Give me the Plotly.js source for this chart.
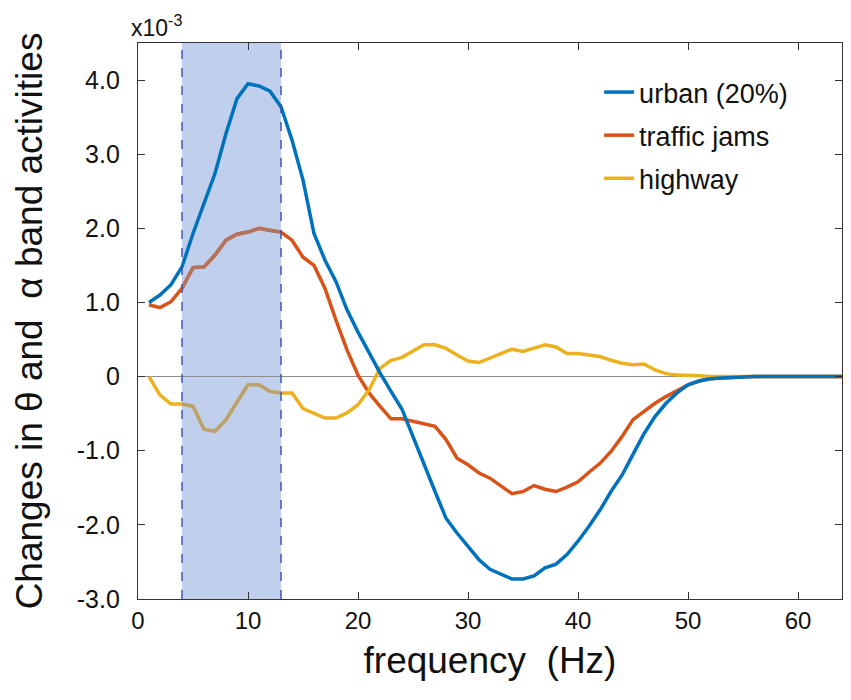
<!DOCTYPE html>
<html>
<head>
<meta charset="utf-8">
<script src="https://cdn.plot.ly/plotly-3.0.1.min.js"></script>
<style>
  html, body { margin: 0; padding: 0; background: #fff; }
  #chart { width: 851px; height: 700px; }
</style>
</head>
<body>
<div id="chart"></div>
<script>
// frequency bins (Hz)
const freq = [];
for (let f = 1; f <= 64; f++) freq.push(f);

// changes in band activity, units of 1e-3
const urban = [
  1.00, 1.10, 1.24, 1.48, 1.93, 2.34, 2.74, 3.28, 3.75, 3.95,
  3.92, 3.85, 3.64, 3.19, 2.65, 1.93, 1.57, 1.28, 0.90, 0.60,
  0.32, 0.05, -0.20, -0.44, -0.81, -1.19, -1.55, -1.91, -2.11, -2.29,
  -2.47, -2.60, -2.67, -2.73, -2.73, -2.69, -2.58, -2.53, -2.40, -2.22,
  -2.02, -1.80, -1.55, -1.33, -1.05, -0.77, -0.54, -0.36, -0.22, -0.11,
  -0.06, -0.03, -0.02, -0.01, 0, 0, 0, 0, 0, 0,
  0, 0, 0, 0
];
const trafficJams = [
  0.97, 0.93, 1.01, 1.19, 1.47, 1.48, 1.64, 1.84, 1.92, 1.95,
  2.00, 1.97, 1.95, 1.84, 1.61, 1.50, 1.19, 0.76, 0.36, 0.02,
  -0.22, -0.40, -0.57, -0.57, -0.60, -0.63, -0.67, -0.85, -1.10, -1.19,
  -1.30, -1.37, -1.48, -1.58, -1.55, -1.47, -1.52, -1.55, -1.49, -1.42,
  -1.29, -1.17, -1.01, -0.81, -0.58, -0.47, -0.36, -0.27, -0.19, -0.11,
  -0.06, -0.03, -0.02, -0.01, 0, 0, 0, 0, 0, 0,
  0, 0, 0, 0
];
const highway = [
  0, -0.25, -0.37, -0.37, -0.40, -0.71, -0.74, -0.58, -0.34, -0.11,
  -0.11, -0.20, -0.22, -0.22, -0.43, -0.50, -0.56, -0.56, -0.49, -0.38,
  -0.18, 0.11, 0.22, 0.26, 0.35, 0.43, 0.43, 0.38, 0.29, 0.21,
  0.19, 0.25, 0.31, 0.37, 0.34, 0.39, 0.43, 0.40, 0.31, 0.31,
  0.29, 0.27, 0.22, 0.18, 0.16, 0.17, 0.09, 0.04, 0.02, 0.02,
  0.01, 0, 0, 0, 0, 0, 0, 0, 0, 0,
  0, 0, 0, 0
];

// theta + alpha band limits (Hz)
const bandStart = 4;
const bandEnd = 13;

// axis ticks
const xTicks = [0, 10, 20, 30, 40, 50, 60];
const yTicks = [-3, -2, -1, 0, 1, 2, 3, 4];
const yTickText = ['-3.0', '-2.0', '-1.0', '0', '1.0', '2.0', '3.0', '4.0'];

const FONT = '"Liberation Sans", Arial, Helvetica, sans-serif';
const AXIS = '#333333';

// points that sit inside the shaded band (drawn in a muted colour)
const inBand = freq.map(f => f >= bandStart && f <= bandEnd);
const pick = arr => arr.filter((v, i) => inBand[i]);

function line(y, name, color, rank) {
  return {
    x: freq, y: y, name: name, type: 'scatter', mode: 'lines',
    legendgroup: name, legendrank: rank,
    line: { color: color, width: 3.5 }
  };
}
function bandPart(y, color) {
  return {
    x: pick(freq), y: pick(y), type: 'scatter', mode: 'lines',
    showlegend: false, hoverinfo: 'skip',
    line: { color: color, width: 3.5 }
  };
}

// urban last so it sits on top of the shaded band
const traces = [
  line(trafficJams, 'traffic jams', '#D95319', 2),
  line(highway, 'highway', '#EDB120', 3),
  bandPart(trafficJams, '#b3735e'),
  bandPart(highway, '#b9a172'),
  line(urban, 'urban (20%)', '#0072BD', 1)
];

const layout = {
  width: 851,
  height: 700,
  margin: { l: 138, r: 9, t: 43, b: 101 },
  paper_bgcolor: '#ffffff',
  plot_bgcolor: '#ffffff',
  font: { family: FONT, color: '#111111' },
  showlegend: true,
  legend: {
    x: 0.655, y: 0.955, xanchor: 'left', yanchor: 'top',
    bgcolor: 'rgba(0,0,0,0)',
    font: { family: FONT, size: 27, color: '#111111' },
    traceorder: 'grouped',
    tracegroupgap: 5
  },
  xaxis: {
    range: [0, 64],
    tickvals: xTicks,
    ticks: 'inside', ticklen: 7, tickcolor: AXIS,
    showline: true, linecolor: AXIS, linewidth: 1.2, mirror: 'ticks',
    showgrid: false, zeroline: false,
    tickfont: { family: FONT, size: 24, color: '#111111' },
    title: { text: 'frequency\u00a0\u00a0(Hz)', font: { family: FONT, size: 37, color: '#111111' }, standoff: 14 }
  },
  yaxis: {
    range: [-3, 4.5],
    tickvals: yTicks,
    ticktext: yTickText,
    ticks: 'inside', ticklen: 7, tickcolor: AXIS,
    showline: true, linecolor: AXIS, linewidth: 1.2, mirror: 'ticks',
    showgrid: false,
    zeroline: true, zerolinecolor: '#8c8c8c', zerolinewidth: 1.5,
    ticklabelstandoff: 12,
    tickfont: { family: FONT, size: 25, color: '#111111' },
    title: { text: 'Changes in \u03b8 and \u00a0\u03b1 band activities', font: { family: FONT, size: 37, color: '#111111' }, standoff: 22 }
  },
  shapes: [
    {
      type: 'rect', xref: 'x', yref: 'paper', layer: 'below',
      x0: bandStart, x1: bandEnd, y0: 0, y1: 1,
      fillcolor: '#c0d0ec', line: { width: 0 }
    },
    {
      type: 'line', xref: 'x', yref: 'paper', layer: 'above',
      x0: bandStart, x1: bandStart, y0: 0, y1: 1,
      line: { color: '#3f55b5', width: 1.5, dash: 'dash' }
    },
    {
      type: 'line', xref: 'x', yref: 'paper', layer: 'above',
      x0: bandEnd, x1: bandEnd, y0: 0, y1: 1,
      line: { color: '#3f55b5', width: 1.5, dash: 'dash' }
    }
  ],
  annotations: [
    {
      xref: 'paper', yref: 'paper', x: 0, y: 1,
      xanchor: 'right', yanchor: 'bottom', xshift: 46, yshift: 0,
      showarrow: false,
      text: 'x10<sup>-3</sup>',
      font: { family: FONT, size: 23, color: '#111111' }
    }
  ]
};

Plotly.newPlot('chart', traces, layout, { displayModeBar: false, staticPlot: true });
</script>
</body>
</html>
